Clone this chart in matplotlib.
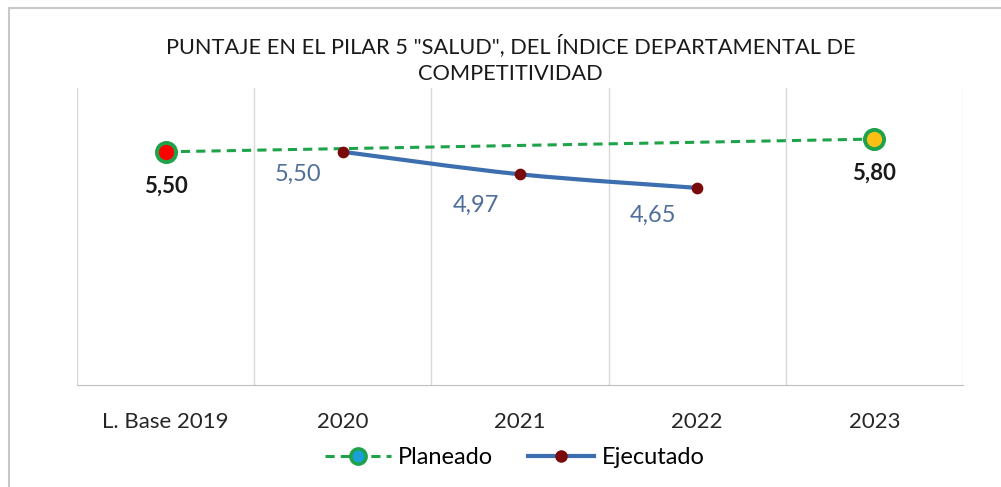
import numpy as np
import matplotlib
matplotlib.use("Agg")
import matplotlib.pyplot as plt
from matplotlib.path import Path
from matplotlib.patches import PathPatch, Rectangle
from matplotlib.lines import Line2D

plt.rcParams['font.family'] = ['Lato', 'DejaVu Sans']

categories = ["L. Base 2019", "2020", "2021", "2022", "2023"]
plan_idx = [0, 4]
plan_vals = [5.50, 5.80]
exec_idx = [1, 2, 3]
exec_vals = [5.50, 4.97, 4.65]

green = "#1fa34a"
blue = "#3d6fb0"
darkred = "#7a0a0a"
label_blue = "#4f6f9a"


def fmt(v):
    return f"{v:.2f}".replace(".", ",")


def smooth_path(xs, ys, t=1 / 6):
    # Excel-style smoothed line (Catmull-Rom tangents as cubic Bezier)
    xs, ys = list(xs), list(ys)
    n = len(xs)
    verts = [(xs[0], ys[0])]
    codes = [Path.MOVETO]
    for i in range(n - 1):
        x0, y0 = (xs[i - 1], ys[i - 1]) if i > 0 else (xs[i], ys[i])
        x3, y3 = (xs[i + 2], ys[i + 2]) if i + 2 < n else (xs[i + 1], ys[i + 1])
        c1 = (xs[i] + (xs[i + 1] - x0) * t, ys[i] + (ys[i + 1] - y0) * t)
        c2 = (xs[i + 1] - (x3 - xs[i]) * t, ys[i + 1] - (y3 - ys[i]) * t)
        verts += [c1, c2, (xs[i + 1], ys[i + 1])]
        codes += [Path.CURVE4] * 3
    return Path(verts, codes)


fig = plt.figure(figsize=(10.01, 4.87), dpi=100)
fig.patches.append(Rectangle((9 / 1001, -0.1), 1.2, 1 - 8 / 487 + 0.1,
                             transform=fig.transFigure, fill=False,
                             edgecolor="#c8c8c8", linewidth=1.5))

ax = fig.add_axes([0.077, 0.209, 0.885, 0.610])
ax.set_xlim(-0.5, 4.5)
ax.set_ylim(0, 7)

for b in np.arange(-0.5, 5.0, 1.0):
    ax.axvline(b, color="#d9d9d9", linewidth=1, zorder=0)

for s in ["top", "right", "left"]:
    ax.spines[s].set_visible(False)
ax.spines["bottom"].set_color("#bfbfbf")
ax.set_yticks([])
ax.set_xticks(range(len(categories)))
ax.set_xticklabels(categories, fontsize=16, color="#262626")
ax.tick_params(axis="x", length=0, pad=19)

# Planeado
ax.plot(plan_idx, plan_vals, linestyle=(0, (3, 2)), color=green, linewidth=2.2, zorder=2)
ax.scatter([plan_idx[0]], [plan_vals[0]], s=190, color="red", edgecolor=green, linewidth=2.8, zorder=3)
ax.scatter([plan_idx[1]], [plan_vals[1]], s=190, color="#fbbf16", edgecolor=green, linewidth=2.8, zorder=3)
for x, v in zip(plan_idx, plan_vals):
    ax.annotate(fmt(v), (x, v), xytext=(0, -17), textcoords="offset points",
                ha="center", va="top", fontsize=16, fontweight="bold", color="#1a1a1a")

# Ejecutado
ax.add_patch(PathPatch(smooth_path(exec_idx, exec_vals), facecolor="none",
                       edgecolor=blue, linewidth=3, zorder=3))
ax.scatter(exec_idx, exec_vals, s=55, color=darkred, zorder=4)
label_dy = [-9, -15, -12]
for x, v, dy in zip(exec_idx, exec_vals, label_dy):
    ax.annotate(fmt(v), (x, v), xytext=(-32, dy), textcoords="offset points",
                ha="center", va="top", fontsize=17, color=label_blue)

fig.text(0.51, 0.878, 'PUNTAJE EN EL PILAR 5 "SALUD", DEL ÍNDICE DEPARTAMENTAL DE\nCOMPETITIVIDAD',
         ha="center", va="center", fontsize=15.7, color="#1a1a1a", linespacing=1.45)

handles = [
    Line2D([0], [0], color=green, linestyle=(0, (3, 2)), linewidth=2.2, marker="o",
           markersize=11, markerfacecolor="#1a9fd8", markeredgecolor=green, markeredgewidth=2.5),
    Line2D([0], [0], color=blue, linewidth=3, marker="o", markersize=8,
           markerfacecolor=darkred, markeredgecolor=darkred),
]
fig.legend(handles, ["Planeado", "Ejecutado"], loc="center", bbox_to_anchor=(0.514, 0.06),
           ncol=2, frameon=False, fontsize=17, handlelength=2.8, columnspacing=1.5,
           handletextpad=0.3)

fig.savefig("out.png", dpi=100)
